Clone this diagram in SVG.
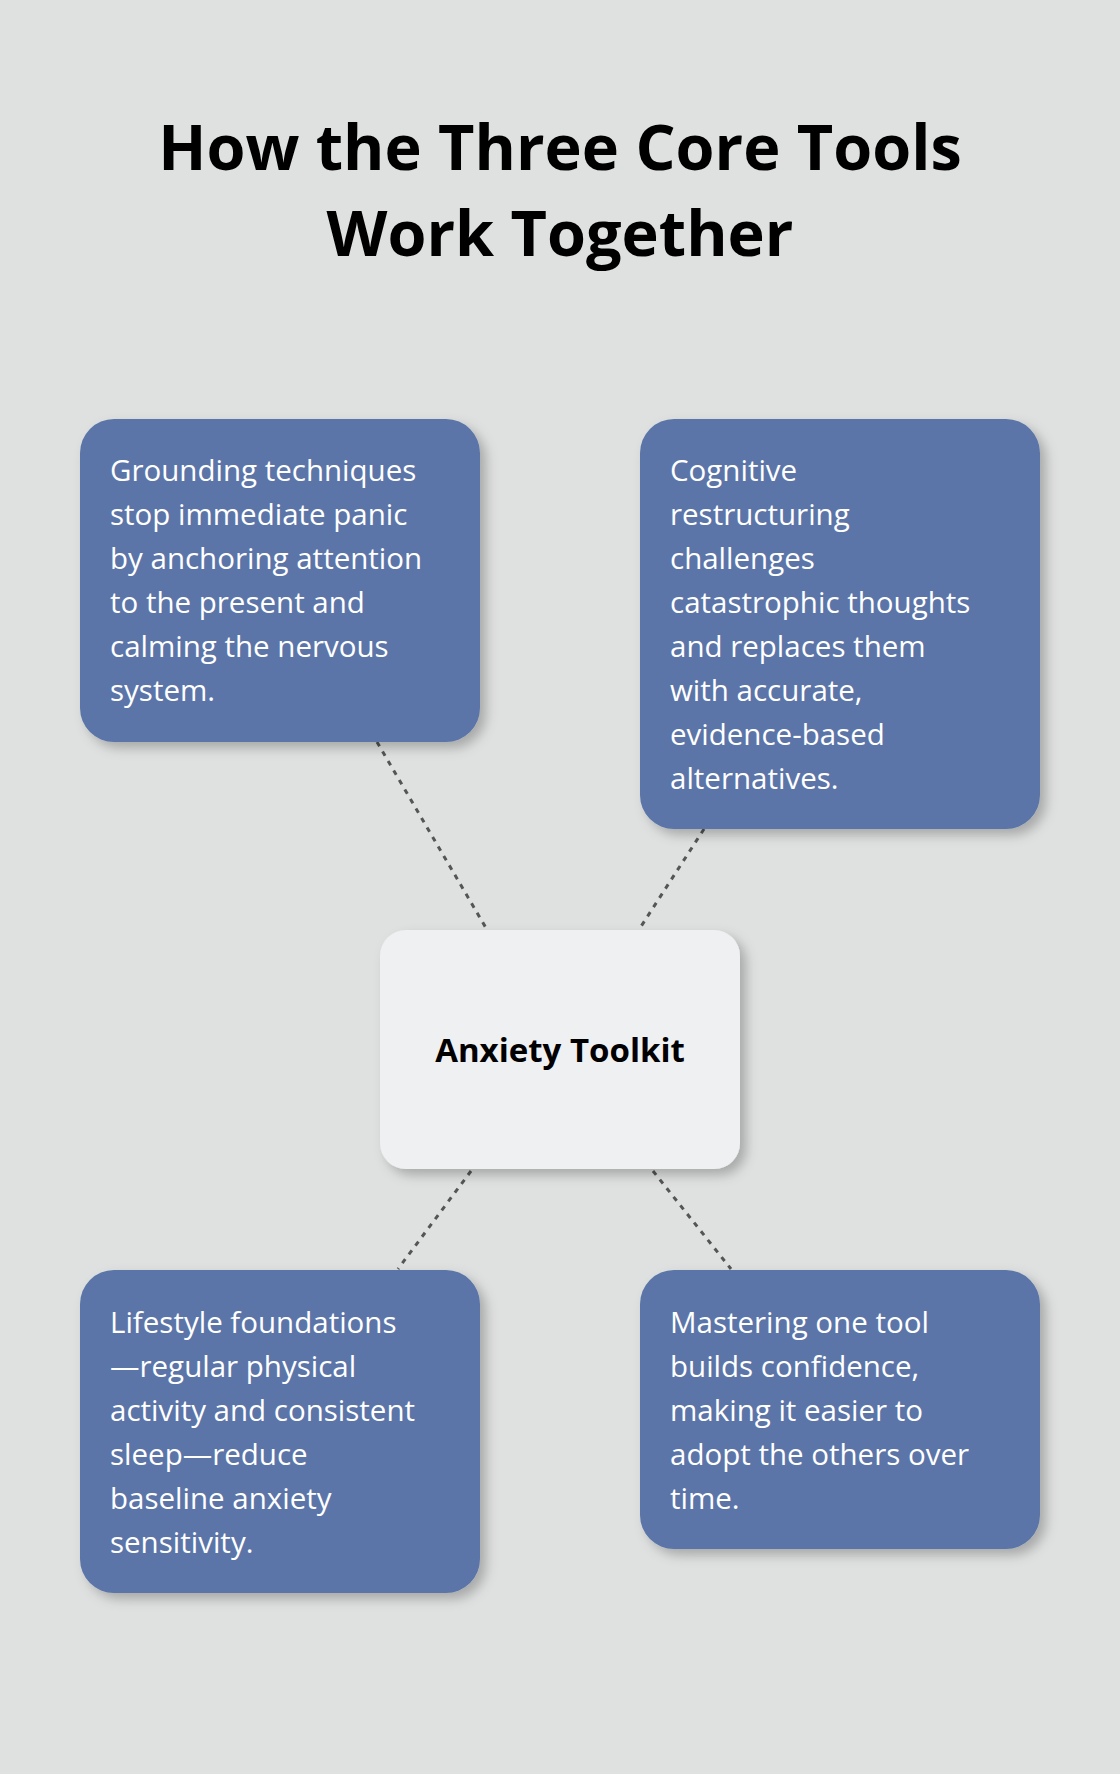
<svg xmlns="http://www.w3.org/2000/svg" width="1120" height="1774" viewBox="0 0 1120 1774">
<style>
.t{font-family:"Open Sans","Noto Sans",sans-serif;font-size:29.5px;fill:#ffffff}
.box{fill:#5b75a8}
.h{font-family:"Open Sans","Noto Sans",sans-serif;font-weight:bold;font-size:63px;fill:#000;text-anchor:middle}
.c{stroke:#555;stroke-width:3;stroke-dasharray:5 6;fill:none}
</style>
<defs><filter id="sh" x="-20%" y="-20%" width="140%" height="140%"><feDropShadow dx="6" dy="6" stdDeviation="6" flood-color="#000" flood-opacity="0.25"/></filter></defs>
<rect width="1120" height="1774" fill="#dfe1e0"/>
<text class="h" x="560" y="170">How the Three Core Tools</text>
<text class="h" x="560" y="256">Work Together</text>
<g id="connectors">
<line class="c" x1="377" y1="742" x2="486" y2="928"/>
<line class="c" x1="704" y1="829" x2="640" y2="928"/>
<line class="c" x1="471" y1="1171" x2="398" y2="1269"/>
<line class="c" x1="653" y1="1171" x2="731" y2="1269"/>
</g>
<g id="n1"><rect class="box" x="80" y="419" width="400" height="323" rx="34" filter="url(#sh)"/>
<text class="t" x="110"><tspan x="110" y="481">Grounding techniques</tspan><tspan x="110" y="525">stop immediate panic</tspan><tspan x="110" y="569">by anchoring attention</tspan><tspan x="110" y="613">to the present and</tspan><tspan x="110" y="657">calming the nervous</tspan><tspan x="110" y="701">system.</tspan></text></g>
<g id="n2"><rect class="box" x="640" y="419" width="400" height="410" rx="34" filter="url(#sh)"/>
<text class="t"><tspan x="670" y="481">Cognitive</tspan><tspan x="670" y="525">restructuring</tspan><tspan x="670" y="569">challenges</tspan><tspan x="670" y="613">catastrophic thoughts</tspan><tspan x="670" y="657">and replaces them</tspan><tspan x="670" y="701">with accurate,</tspan><tspan x="670" y="745">evidence-based</tspan><tspan x="670" y="789">alternatives.</tspan></text></g>
<g id="center"><rect x="380" y="930" width="360" height="239" rx="26" fill="#eff0f2" filter="url(#sh)"/>
<text x="560" y="1062" text-anchor="middle" style="font-family:'Open Sans','Noto Sans',sans-serif;font-weight:bold;font-size:33px;fill:#000">Anxiety Toolkit</text></g>
<g id="n3"><rect class="box" x="80" y="1270" width="400" height="323" rx="34" filter="url(#sh)"/>
<text class="t"><tspan x="110" y="1333">Lifestyle foundations</tspan><tspan x="110" y="1377">—regular physical</tspan><tspan x="110" y="1421">activity and consistent</tspan><tspan x="110" y="1465">sleep—reduce</tspan><tspan x="110" y="1509">baseline anxiety</tspan><tspan x="110" y="1553">sensitivity.</tspan></text></g>
<g id="n4"><rect class="box" x="640" y="1270" width="400" height="279" rx="34" filter="url(#sh)"/>
<text class="t"><tspan x="670" y="1333">Mastering one tool</tspan><tspan x="670" y="1377">builds confidence,</tspan><tspan x="670" y="1421">making it easier to</tspan><tspan x="670" y="1465">adopt the others over</tspan><tspan x="670" y="1509">time.</tspan></text></g>
</svg>
